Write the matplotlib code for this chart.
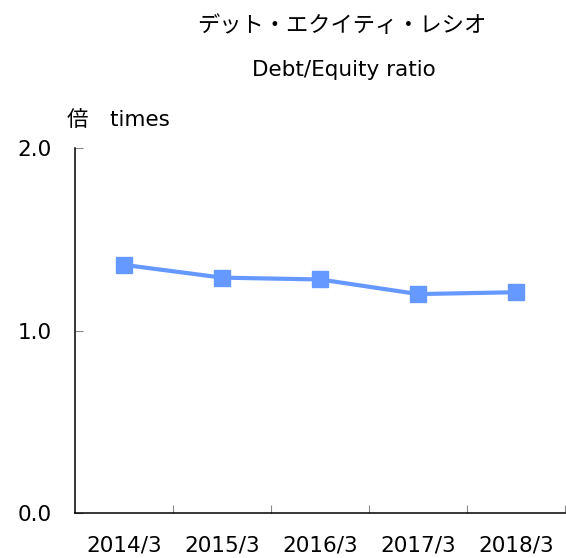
import matplotlib
matplotlib.use('Agg')
import matplotlib.pyplot as plt
import numpy as np

plt.rcParams['font.family'] = ['DejaVu Sans', 'Noto Sans CJK JP']

years = ['2014/3', '2015/3', '2016/3', '2017/3', '2018/3']
de_ratio = [1.36, 1.29, 1.28, 1.20, 1.21]
yticks = [0.0, 1.0, 2.0]

fig = plt.figure(figsize=(5.66, 5.58), dpi=100)
ax = fig.add_axes([0.1325, 0.0806, 0.866, 0.654])

x = np.arange(len(years))
ax.plot(x, de_ratio, color='#6699FF', linewidth=3, marker='s', markersize=11)

ax.set_xlim(-0.5, len(years) - 0.5)
ax.set_ylim(0, 2)
ax.set_yticks(yticks)
ax.set_yticklabels(['%.1f' % v for v in yticks], fontsize=15.5)
ax.set_xticks(x)
ax.set_xticklabels(years, fontsize=15.5)
ax.set_xticks(x + 0.5, minor=True)
ax.tick_params(axis='x', which='major', length=0, pad=16)
ax.tick_params(axis='x', which='minor', direction='in', length=5.5, width=0.8, color='#888888')
ax.tick_params(axis='y', direction='in', length=5.5, width=0.8, color='#888888', pad=17)

ax.spines['top'].set_visible(False)
ax.spines['right'].set_visible(False)
for s in ['left', 'bottom']:
    ax.spines[s].set_linewidth(1.1)

fig.text(0.603, 0.955, 'デット・エクイティ・レシオ', ha='center', va='center', fontsize=16)
fig.text(0.607, 0.875, 'Debt/Equity ratio', ha='center', va='center', fontsize=15.5)
fig.text(0.118, 0.785, '倍　times', ha='left', va='center', fontsize=15.5)

fig.savefig('out.png', dpi=100)
